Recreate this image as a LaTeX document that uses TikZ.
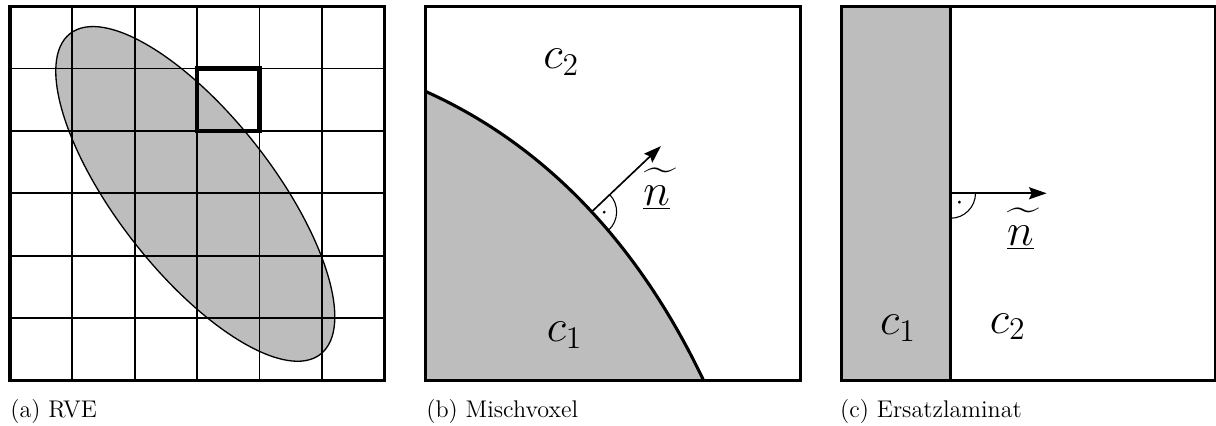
\documentclass[tikz,border=0pt]{standalone}
\usepackage{graphicx}
\usetikzlibrary{arrows.meta,calc}
\definecolor{fillgray}{RGB}{189,189,189}
\newcommand{\tildeacc}{\raisebox{3.4pt}{\scalebox{1.45}[1.8]{$\widetilde{\hphantom{n}}$}}}
\newcommand{\nvec}{$\underline{n}$\llap{\tildeacc\kern-4.2pt}}
\begin{document}
\begin{tikzpicture}[x=1cm,y=1cm,
  frame/.style={line width=1.4pt},
  gridline/.style={line width=0.8pt},
  boldcell/.style={line width=2pt},
  interface/.style={line width=1.4pt},
  normalarrow/.style={line width=0.75pt,-{Stealth[length=8pt,width=5.5pt,inset=1.2pt]}},
  rangle/.style={line width=0.5pt},
  lbl/.style={font=\fontsize{20.7}{24}\selectfont, inner sep=0pt},
  captext/.style={font=\fontsize{11}{13}\selectfont, anchor=base west, inner sep=0pt}]
\useasboundingbox (-0.16,-0.729) rectangle (19.33,6.098);

% ---------- (a) RVE ----------
\begin{scope}
  \fill[fillgray, rotate around={-52:(2.97,2.99)}] (2.97,2.99) ellipse [x radius=3.26, y radius=1.25];
  \draw[line width=0.6pt, rotate around={-52:(2.97,2.99)}] (2.97,2.99) ellipse [x radius=3.26, y radius=1.25];
  \draw[gridline] (0,0) grid (6,6);
  \draw[frame] (0,0) rectangle (6,6);
  \draw[boldcell] (3,4) rectangle (4,5);
  \node[captext] (capa) at (0,-0.59) {(a) RVE};
\end{scope}

% ---------- (b) Mischvoxel ----------
\begin{scope}[shift={(6.667,0)}]
  \fill[fillgray] (0,0) -- (0,4.63) .. controls (1.4,4.0) and (3.15,2.73) .. (4.45,0) -- cycle;
  \draw[interface] (0,4.63) .. controls (1.4,4.0) and (3.15,2.73) .. (4.45,0) node[coordinate, pos=0.585] (footb) {};
  \draw[frame] (0,0) rectangle (6,6);
  \coordinate (tipb) at ($(footb)+(43.5:1.53)$);
  \draw[normalarrow] (footb) -- (tipb);
  \draw[rangle] ($(footb)+(43.5:0.4)$) arc[start angle=43.5, end angle=-46.5, radius=0.4];
  \fill ($(footb)+(-1.5:0.2)$) circle[radius=0.7pt];
  \node[lbl, anchor=base west] (nb) at (3.478,2.81) {\nvec};
  \node[lbl, anchor=base west] (c2b) at (1.875,5.0) {$c_2$};
  \node[lbl, anchor=base west] (c1b) at (1.93,0.62) {$c_1$};
  \node[captext] (capb) at (0,-0.59) {(b) Mischvoxel};
\end{scope}

% ---------- (c) Ersatzlaminat ----------
\begin{scope}[shift={(13.33,0)}]
  \fill[fillgray] (0,0) rectangle (1.745,6);
  \draw[frame] (1.745,0) -- (1.745,6);
  \draw[frame] (0,0) rectangle (6,6);
  \coordinate (footc) at (1.745,3);
  \coordinate (tipc) at (3.285,3);
  \draw[normalarrow] (footc) -- (tipc);
  \draw[rangle] ($(footc)+(0:0.4)$) arc[start angle=0, end angle=-90, radius=0.4];
  \fill ($(footc)+(-45:0.2)$) circle[radius=0.7pt];
  \node[lbl, anchor=base west] (nc) at (2.644,2.17) {\nvec};
  \node[lbl, anchor=base west] (c1c) at (0.61,0.73) {$c_1$};
  \node[lbl, anchor=base west] (c2c) at (2.37,0.76) {$c_2$};
  \node[captext] (capc) at (-0.03,-0.59) {(c) Ersatzlaminat};
\end{scope}
\end{tikzpicture}
\end{document}
